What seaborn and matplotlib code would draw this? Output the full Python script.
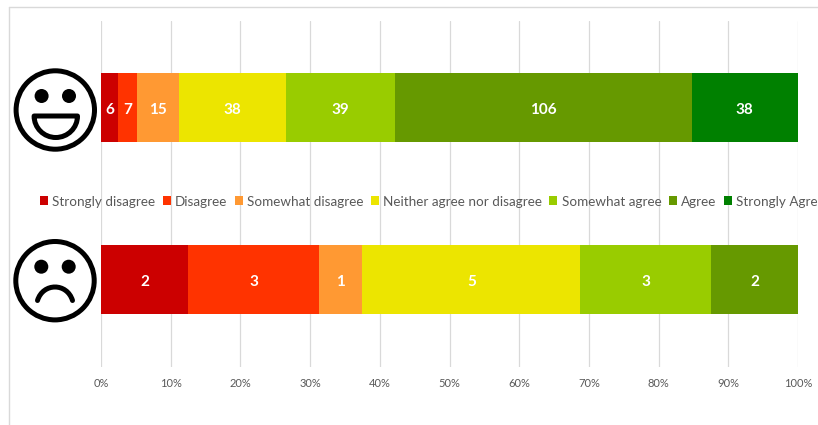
import matplotlib
matplotlib.use("Agg")
import matplotlib.pyplot as plt
import numpy as np
import pandas as pd
import seaborn as sns
from matplotlib.patches import Circle, PathPatch, Patch
from matplotlib.path import Path
from matplotlib.lines import Line2D
from matplotlib.ticker import PercentFormatter

groups = ["Happy", "Sad"]
responses = ["Strongly disagree", "Disagree", "Somewhat disagree",
             "Neither agree nor disagree", "Somewhat agree", "Agree", "Strongly Agree"]
happy_counts = [6, 7, 15, 38, 39, 106, 38]
sad_counts = [2, 3, 1, 5, 3, 2, 0]
colors = ["#CC0000", "#FF3300", "#FF9933", "#ECE500", "#99CC00", "#669900", "#008000"]
tick_values = [0, 10, 20, 30, 40, 50, 60, 70, 80, 90, 100]

sns.set_theme(style="white")
plt.rcParams["font.family"] = ["Lato", "DejaVu Sans"]

W, H = 818, 425
fig = plt.figure(figsize=(W / 100, H / 100), dpi=100, facecolor="white")
ax = fig.add_axes([101 / W, 1 - 367 / H, 697 / W, 346 / H])

counts = np.array([happy_counts, sad_counts], dtype=float)
pct = counts / counts.sum(axis=1, keepdims=True) * 100
cum = pct.cumsum(axis=1)

# stacked look: longest cumulative bar first, shorter ones painted over it
for j in range(len(responses) - 1, -1, -1):
    df = pd.DataFrame({"group": groups, "pct": cum[:, j]})
    sns.barplot(data=df, y="group", x="pct", order=groups, orient="y", color=colors[j],
                saturation=1, width=0.4, ax=ax, zorder=3, linewidth=0, errorbar=None)

for i in range(len(groups)):
    for j in range(len(responses)):
        if counts[i, j] > 0:
            ax.text(cum[i, j] - pct[i, j] / 2, i + 0.004, f"{int(counts[i, j])}", ha="center",
                    va="center_baseline", color="white", fontweight="bold", fontsize=11, zorder=4)

ax.set_xlim(0, 100)
ax.set_ylim(1.51, -0.503)
ax.set_xticks(tick_values)
ax.xaxis.set_major_formatter(PercentFormatter(100, decimals=0))
ax.tick_params(axis="x", length=0, pad=8, labelsize=8, labelcolor="#595959")
ax.set_yticks([])
ax.set_xlabel("")
ax.set_ylabel("")
ax.grid(axis="x", color="#D9D9D9", linewidth=0.9, zorder=0)
ax.set_axisbelow(True)
sns.despine(ax=ax, left=True, bottom=True, top=True, right=True)

# overlay in pixel units for the frame and the two face icons
ov = fig.add_axes([0, 0, 1, 1], zorder=5)
ov.set_xlim(0, W)
ov.set_ylim(H, 0)
ov.axis("off")
ov.patch.set_alpha(0)
frame = "#D9D9D9"
ov.add_line(Line2D([8.5, 8.5], [6.5, H], color=frame, lw=1.0))
ov.add_line(Line2D([8.5, W], [6.5, 6.5], color=frame, lw=1.0))


def face(cx, cy):
    ov.add_patch(Circle((cx, cy), 39.2, fc="white", ec="black", lw=3.6))
    ov.add_patch(Circle((cx - 13.7, cy - 14), 7, fc="black", ec="none"))
    ov.add_patch(Circle((cx + 13.7, cy - 14), 7, fc="black", ec="none"))


face(55.3, 110)
k = 0.5523
mx, my, rx, ry = 55.8, 116, 21.7, 21.5
mouth = Path(
    [(mx - rx, my), (mx + rx, my),
     (mx + rx, my + k * ry), (mx + k * rx, my + ry), (mx, my + ry),
     (mx - k * rx, my + ry), (mx - rx, my + k * ry), (mx - rx, my),
     (mx - rx, my)],
    [Path.MOVETO, Path.LINETO, Path.CURVE4, Path.CURVE4, Path.CURVE4,
     Path.CURVE4, Path.CURVE4, Path.CURVE4, Path.CLOSEPOLY])
ov.add_patch(PathPatch(mouth, fc="white", ec="black", lw=3.6, joinstyle="round"))

face(55, 280.7)
frown = Path([(37.5, 300.5), (43, 282.5), (67, 282.5), (72.5, 300.5)],
             [Path.MOVETO, Path.CURVE4, Path.CURVE4, Path.CURVE4])
ov.add_patch(PathPatch(frown, fc="none", ec="black", lw=3.6, capstyle="round"))

handles = [Patch(facecolor=c, edgecolor="none", label=r) for c, r in zip(colors, responses)]
leg = fig.legend(handles=handles, loc="center left", bbox_to_anchor=(40 / W, 1 - 201.5 / H),
                 bbox_transform=fig.transFigure, ncol=7, frameon=False, fontsize=9.75,
                 handlelength=0.6, handleheight=0.6, handletextpad=0.32, columnspacing=0.525,
                 borderpad=0, borderaxespad=0, labelcolor="#595959")

fig.savefig("out.png", dpi=100, facecolor="white")
